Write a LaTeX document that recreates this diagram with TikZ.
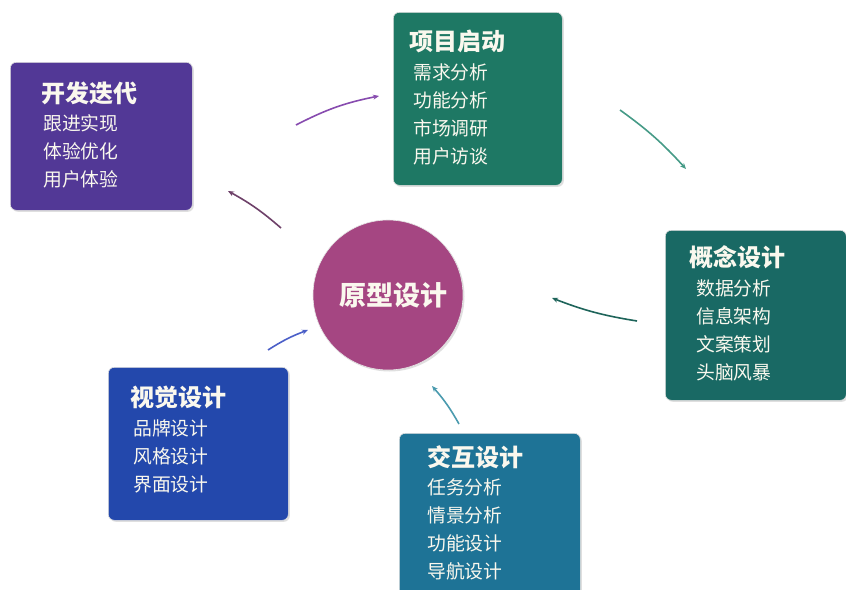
\documentclass[tikz,border=0pt]{standalone}
\usepackage{fontspec}
\setmainfont{Noto Sans CJK SC}
\usetikzlibrary{arrows.meta,shadows}
\definecolor{cPurple}{RGB}{82,56,150}
\definecolor{cGreen}{RGB}{30,120,100}
\definecolor{cDarkTeal}{RGB}{25,105,100}
\definecolor{cBlue}{RGB}{35,72,172}
\definecolor{cTealBlue}{RGB}{30,115,150}
\definecolor{cPlum}{RGB}{165,70,130}
\definecolor{cTxt}{RGB}{250,248,238}
\tikzset{
  box/.style={draw=black!12, line width=0.6pt, rounded corners=6pt, anchor=north west, inner sep=0pt,
    drop shadow={opacity=0.25, shadow xshift=1.5pt, shadow yshift=-1.5pt}},
  ttl/.style={anchor=west, inner sep=0pt, text=cTxt, font=\fontsize{24}{26}\selectfont\bfseries},
  itm/.style={anchor=west, inner sep=0pt, text=cTxt, font=\fontsize{18.8}{21}\selectfont},
  arr/.style={line width=1.6pt, -{Stealth[length=6pt,width=5pt]}, shorten >=0pt}
}
\begin{document}
\begin{tikzpicture}[x=1pt,y=-1pt]
\useasboundingbox (0,0) rectangle (846,589);
\fill[white] (0,0) rectangle (846,589);

% boxes
\node[box, fill=cPurple, minimum width=182pt, minimum height=148pt] (kf) at (10,62) {};
\node[box, fill=cGreen, minimum width=169pt, minimum height=173pt] (xm) at (393,12) {};
\node[box, fill=cDarkTeal, minimum width=181pt, minimum height=170pt] (gn) at (665,230) {};
\node[box, fill=cBlue, minimum width=180pt, minimum height=153pt] (sj) at (108,367) {};
\node[box, fill=cTealBlue, minimum width=181pt, minimum height=165pt] (jh) at (399,433) {};

% circle
\node[circle, fill=cPlum, draw=black!10, line width=0.6pt, minimum size=150pt, inner sep=0pt,
  drop shadow={opacity=0.25, shadow xshift=1.5pt, shadow yshift=-1.5pt}] (yx) at (388,295) {};
\node[text=cTxt, font=\fontsize{27}{30}\selectfont\bfseries, inner sep=0pt] (yxt) at (393,295) {原型设计};

% texts: 开发迭代
\node[ttl] (kf0) at (41,93) {开发迭代};
\node[itm] (kf1) at (43,123) {跟进实现};
\node[itm] (kf2) at (43,151) {体验优化};
\node[itm] (kf3) at (43,179) {用户体验};
% 项目启动
\node[ttl] (xm0) at (409,41) {项目启动};
\node[itm] (xm1) at (413,72) {需求分析};
\node[itm] (xm2) at (413,100) {功能分析};
\node[itm] (xm3) at (413,128) {市场调研};
\node[itm] (xm4) at (413,156) {用户访谈};
% 概念设计
\node[ttl] (gn0) at (689,257) {概念设计};
\node[itm] (gn1) at (696,288) {数据分析};
\node[itm] (gn2) at (696,316) {信息架构};
\node[itm] (gn3) at (696,344) {文案策划};
\node[itm] (gn4) at (696,372) {头脑风暴};
% 视觉设计
\node[ttl] (sj0) at (130,397) {视觉设计};
\node[itm] (sj1) at (133,428) {品牌设计};
\node[itm] (sj2) at (133,456) {风格设计};
\node[itm] (sj3) at (133,484) {界面设计};
% 交互设计
\node[ttl] (jh0) at (427,457) {交互设计};
\node[itm] (jh1) at (427,487) {任务分析};
\node[itm] (jh2) at (427,515) {情景分析};
\node[itm] (jh3) at (427,543) {功能设计};
\node[itm] (jh4) at (427,571) {导航设计};

% arrow end points
\coordinate (a1s) at (296,125); \coordinate (a1e) at (379,96);
\coordinate (a2s) at (620,110); \coordinate (a2e) at (686,169);
\coordinate (a3s) at (637,321); \coordinate (a3e) at (552,298);
\coordinate (a4s) at (459,424); \coordinate (a4e) at (432,386);
\coordinate (a5s) at (268,350); \coordinate (a5e) at (308,330);
\coordinate (a6s) at (281,228); \coordinate (a6e) at (228,191);

\draw[arr, color={rgb,255:red,135;green,75;blue,175}] (a1s) to[bend left=8] (a1e);
\draw[arr, color={rgb,255:red,70;green,155;blue,135}] (a2s) to[bend left=6] (a2e);
\draw[arr, color={rgb,255:red,30;green,100;blue,90}] (a3s) to[bend left=6] (a3e);
\draw[arr, color={rgb,255:red,75;green,155;blue,175}] (a4s) to[bend right=6] (a4e);
\draw[arr, color={rgb,255:red,75;green,95;blue,200}] (a5s) to[bend left=6] (a5e);
\draw[arr, color={rgb,255:red,110;green,65;blue,105}] (a6s) to[bend right=6] (a6e);
\end{tikzpicture}
\end{document}
